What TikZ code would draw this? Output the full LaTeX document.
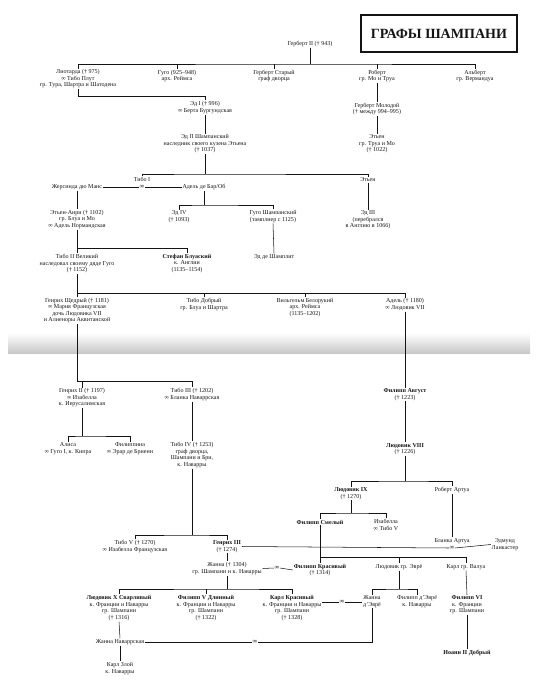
\documentclass[tikz,border=0pt]{standalone}
\usepackage{fontspec}
\setmainfont{Liberation Serif}
\usetikzlibrary{positioning}
\definecolor{inkBlack}{RGB}{20,20,20}
\definecolor{foldGray}{RGB}{85,85,85}
\definecolor{foldLight}{RGB}{200,200,200}

\begin{document}
\begin{tikzpicture}[x=0.05cm,y=-0.05cm,
  person/.style={align=center,inner xsep=1pt,inner ysep=1.3pt,text=inkBlack,font=\fontsize{8.6}{9.3}\selectfont},
  wed/.style={inner sep=0.4pt,text=inkBlack,font=\fontsize{9.5}{9.5}\selectfont},
  tie/.style={draw=inkBlack,line width=0.75pt},
  titlebox/.style={draw=inkBlack,line width=1.6pt,minimum width=7.8cm,minimum height=1.85cm,
    text=inkBlack,font=\fontsize{20}{20}\selectfont\bfseries}]
\useasboundingbox (0,0) rectangle (555,700);

% fold of the scanned page
\shade[top color=white,middle color=foldGray,bottom color=foldLight] (8,333) rectangle (530,353);

% title
\node[titlebox] (title) at (439,33.5) {ГРАФЫ ШАМПАНИ};

% Herbert II and his children
\node[person] (herb2) at (310,44) {Герберт II († 943)};
\coordinate (b1) at (310,64);
\node[person] (liot) at (78,79) {Лиотарда († 975)\\∞ Тибо Плут\\гр. Тура, Шартра и Шатодена};
\node[person] (hugo1) at (177,76) {Гуго (925–948)\\арх. Реймса};
\node[person] (herbS) at (274,76) {Герберт Старый\\граф дворца};
\node[person] (rob) at (377,76) {Роберт\\гр. Мо и Труа};
\node[person] (alb) at (475,76) {Альберт\\гр. Вермандуа};
\draw[tie] (herb2.south) -- (b1);
\draw[tie] (liot.north) |- (b1) -| (alb.north);
\foreach \n in {hugo1,herbS,rob} {\draw[tie] (\n.north) -- (\n.north |- b1);}

% Eudes I, Eudes II, Herbert the Younger
\node[person] (ed1) at (205,107.5) {Эд I († 996)\\∞ Берта Бургундская};
\coordinate (j1) at (205,96);
\draw[tie] (liot.south) |- (j1) -- (ed1.north);
\node[person] (ed2) at (205,144) {Эд II Шампанский\\наследник своего кузена Этьена\\(† 1037)};
\draw[tie] (ed1.south) -- (ed2.north);
\node[person] (hmol) at (377,109) {Герберт Молодой\\(† между 994–995)};
\draw[tie] (rob.south) -- (hmol.north);
\node[person] (etn1) at (377,144) {Этьен\\гр. Труа и Мо\\(† 1022)};
\draw[tie] (hmol.south) -- (etn1.north);

% Thibaut I and Etienne
\coordinate (b2) at (205,174);
\node[person] (tib1) at (142,179) {Тибо I};
\node[person] (etn2) at (368,180) {Этьен};
\draw[tie] (ed2.south) -- (b2);
\draw[tie] (tib1.north) |- (b2) -| (etn2.north);
\node[wed] (m1) at (142,187) {∞};
\node[person] (gers) at (77,187) {Жерсинда дю Манс};
\node[person] (adel1) at (204,187) {Адель де Бар/Об};
\draw[tie] (gers.east) -- (m1.west);
\draw[tie] (m1.east) -- (adel1.west);

\node[person] (etanri) at (77,219.5) {Этьен-Анри († 1102)\\гр. Блуа и Мо\\∞ Адель Нормандская};
\draw[tie] (gers.south) -- (etanri.north);
\coordinate (b3) at (204,205);
\node[person] (ed4) at (179,216.5) {Эд IV\\(† 1093)};
\node[person] (hugoCh) at (273,216.5) {Гуго Шампанский\\(тамплиер с 1125)};
\draw[tie] (adel1.south) -- (b3);
\draw[tie] (ed4.north) |- (b3) -| (hugoCh.north);
\node[person] (ed3) at (368,220) {Эд III\\(перебрался\\в Англию в 1066)};
\draw[tie] (etn2.south) -- (ed3.north);
\node[person] (edch) at (274,257) {Эд де Шамплит};
\draw[tie] (hugoCh.south) -- (edch.north);

% Thibaut II and Stephen
\coordinate (b4) at (77,248);
\node[person] (tib2) at (77,263.5) {Тибо II Великий\\наследовал своему дяде Гуго\\(† 1152)};
\node[person] (stef) at (187,263.5) {\textbf{Стефан Блуаский}\\к. Англии\\(1135–1154)};
\draw[tie] (etanri.south) -- (tib2.north);
\draw[tie] (b4) -| (stef.north);

% children of Thibaut II
\coordinate (b5) at (77,293);
\node[person] (henS) at (77,310.5) {Генрих Щедрый († 1181)\\∞ Мария Французская\\дочь Людовика VII\\и Алиеноры Аквитанской};
\node[person] (tibD) at (204,304.5) {Тибо Добрый\\гр. Блуа и Шартра};
\node[person] (wil) at (305,307.5) {Вильгельм Белорукий\\арх. Реймса\\(1135–1202)};
\node[person] (adel2) at (405,304.5) {Адель († 1180)\\∞ Людовик VII};
\draw[tie] (tib2.south) -- (henS.north);
\draw[tie] (b5) -| (adel2.north);
\foreach \n in {tibD,wil} {\draw[tie] (\n.north) -- (\n.north |- b5);}

% Henry II and Thibaut III
\coordinate (b6) at (192,381);
\node[person] (hen2) at (82,398) {Генрих II († 1197)\\∞ Изабелла\\к. Иерусалимская};
\node[person] (tib3) at (192,394.5) {Тибо III († 1202)\\∞ Бланка Наваррская};
\draw[tie] (henS.south) |- (b6) -- (tib3.north);
\draw[tie] (hen2.north) -- (hen2.north |- b6);
\coordinate (b7) at (82,436);
\node[person] (alisa) at (68,448.5) {Алиса\\∞ Гуго I, к. Кипра};
\node[person] (filip) at (130,448.5) {Филиппина\\∞ Эрар де Бриенн};
\draw[tie] (hen2.south) -- (b7);
\draw[tie] (alisa.north) |- (b7) -| (filip.north);
\node[person] (tib4) at (192,455) {Тибо IV († 1253)\\граф дворца,\\Шампани и Бри,\\к. Наварры};
\draw[tie] (tib3.south) -- (tib4.north);

% kings of France
\node[person] (filA) at (405,394.5) {\textbf{Филипп Август}\\(† 1223)};
\draw[tie] (adel2.south) -- (filA.north);
\node[person] (lud8) at (405,449) {\textbf{Людовик VIII}\\(† 1226)};
\draw[tie] (filA.south) -- (lud8.north);
\coordinate (b8) at (405,481);
\node[person] (lud9) at (351,493.5) {\textbf{Людовик IX}\\(† 1270)};
\node[person] (robA) at (452,490) {Роберт Артуа};
\draw[tie] (lud8.south) -- (b8);
\draw[tie] (lud9.north) |- (b8) -| (robA.north);
\coordinate (b9) at (351,513);
\node[person] (filS) at (320,522) {\textbf{Филипп Смелый}};
\node[person] (isab) at (386,525) {Изабелла\\∞ Тибо V};
\draw[tie] (lud9.south) -- (b9);
\draw[tie] (filS.north) |- (b9) -| (isab.north);
\node[person] (blA) at (452,541) {Бланка Артуа};
\node[wed] (m2) at (452,548) {∞};
\node[person] (edm) at (505,544.5) {Эдмунд\\Ланкастер};
\draw[tie] (robA.south) -- (blA.north);

% Thibaut V and Henry III
\coordinate (b10) at (192,535);
\node[person] (tib5) at (135,546.5) {Тибо V († 1270)\\∞ Изабелла Французская};
\node[person] (hen3) at (227,546.5) {\textbf{Генрих III}\\(† 1274)};
\draw[tie] (tib4.south) -- (b10);
\draw[tie] (tib5.north) |- (b10) -| (hen3.north);
\draw[tie] (hen3.east) -- (m2.west);
\draw[tie] (m2.east) -- (edm.west);

\node[person] (jean1) at (227,568.5) {Жанна († 1304)\\гр. Шампани и к. Наварры};
\draw[tie] (hen3.south) -- (jean1.north);
\node[wed] (m3) at (277,568) {∞};
\node[person] (filK) at (320,570) {\textbf{Филипп Красивый}\\(† 1314)};
\draw[tie] (jean1.east) -- (m3.west);
\draw[tie] (m3.east) -- (filK.west);
\draw[tie] (filS.south) -- (filK.north);
\coordinate (b11) at (320,557);
\node[person] (ludE) at (399,567) {Людовик гр. Эврё};
\node[person] (karlV) at (466,567) {Карл гр. Валуа};
\draw[tie] (b11) -| (karlV.north);
\draw[tie] (ludE.north) -- (ludE.north |- b11);

% last kings of the line
\coordinate (b12) at (227,589);
\node[person] (lud10) at (119,608) {\textbf{Людовик X Сварливый}\\к. Франции и Наварры\\гр. Шампани\\(† 1316)};
\node[person] (fil5) at (206,608) {\textbf{Филипп V Длинный}\\к. Франции и Наварры\\гр. Шампани\\(† 1322)};
\node[person] (karl4) at (292,608) {\textbf{Карл Красивый}\\к. Франции и Наварры\\гр. Шампани\\(† 1328)};
\draw[tie] (jean1.south) -- (b12);
\draw[tie] (lud10.north) |- (b12) -| (karl4.north);
\draw[tie] (fil5.north) -- (fil5.north |- b12);

\coordinate (b13) at (399,589);
\node[person] (jevr) at (372,601.5) {Жанна\\д'Эврё};
\node[person] (filE) at (417,601.5) {Филипп д'Эврё\\к. Наварры};
\draw[tie] (ludE.south) -- (b13);
\draw[tie] (jevr.north) |- (b13) -| (filE.north);
\node[wed] (m4) at (342,602) {∞};
\draw[tie] (m4.west) -- (m4.west -| karl4.east);
\draw[tie] (m4.east) -- (jevr.west |- m4.east);

\node[person] (fil6) at (467,605) {\textbf{Филипп VI}\\к. Франции\\гр. Шампани};
\draw[tie] (karlV.south) -- (fil6.north);
\node[person] (ioann) at (467,653) {\textbf{Иоанн II Добрый}};
\draw[tie] (fil6.south) -- (ioann.north);

% Jeanne of Navarre
\node[person] (jnav) at (120,642) {Жанна Наваррская};
\node[wed] (m5) at (255,642) {∞};
\draw[tie] (lud10.south) -- (jnav.north);
\draw[tie] (jnav.east) -- (m5.west);
\draw[tie] (m5.east) -| (jevr.south);
\node[person] (karlZ) at (120,668.5) {Карл Злой\\к. Наварры};
\draw[tie] (jnav.south) -- (karlZ.north);
\end{tikzpicture}
\end{document}
